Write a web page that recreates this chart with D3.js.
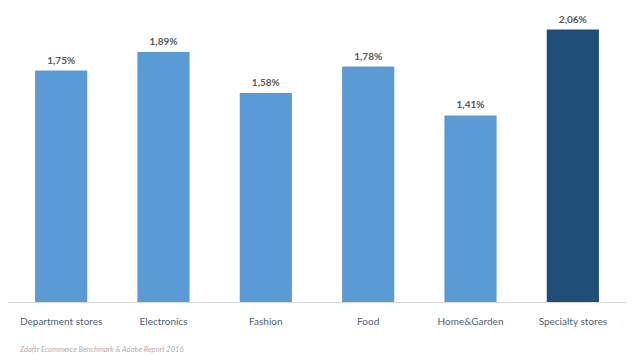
<!DOCTYPE html>
<html>
<head>
<meta charset="utf-8">
<script src="https://cdn.jsdelivr.net/npm/d3@7"></script>
<style>
  body { margin: 0; background: #fff; }
  svg { display: block; font-family: Lato, "Open Sans", sans-serif; }
</style>
</head>
<body>
<div id="wrapper"></div>
<script>
const categories = ["Department stores", "Electronics", "Fashion", "Food", "Home&Garden", "Specialty stores"];
const values = [1.75, 1.89, 1.58, 1.78, 1.41, 2.06];
const valueLabels = ["1,75%", "1,89%", "1,58%", "1,78%", "1,41%", "2,06%"];
const highlight = ["Specialty stores"];
const source = "Zdaftr Ecommerce Benchmark & Adobe Report 2016";

const dimension = { width: 633, height: 356, baseline: 302 };

const svg = d3.select("#wrapper")
    .append("svg")
    .attr("width", dimension.width)
    .attr("height", dimension.height);

const xScaler = d3.scaleBand()
    .domain(categories)
    .range([10, 624])
    .paddingInner(0.49)
    .paddingOuter(0.245);

// 1.89 -> 250px above the baseline
const yScaler = d3.scaleLinear()
    .domain([0, 1.89])
    .range([dimension.baseline, 52]);

const data = categories.map((c, i) => ({ cat: c, value: values[i], label: valueLabels[i] }));

svg.append("line")
    .attr("x1", 8)
    .attr("x2", 626)
    .attr("y1", dimension.baseline + 0.5)
    .attr("y2", dimension.baseline + 0.5)
    .attr("stroke", "#d9d9d9")
    .attr("stroke-width", 1);

svg.append("g")
    .selectAll("rect")
    .data(data)
    .join("rect")
    .attr("x", d => xScaler(d.cat))
    .attr("y", d => yScaler(d.value))
    .attr("width", xScaler.bandwidth())
    .attr("height", d => dimension.baseline - yScaler(d.value))
    .attr("fill", d => highlight.includes(d.cat) ? "#1f4e79" : "#5b9bd5");

svg.append("g")
    .selectAll("text")
    .data(data)
    .join("text")
    .attr("x", d => xScaler(d.cat) + xScaler.bandwidth() / 2)
    .attr("y", d => yScaler(d.value) - 7)
    .attr("text-anchor", "middle")
    .attr("font-size", "10px")
    .attr("font-weight", "bold")
    .attr("fill", "#595959")
    .text(d => d.label);

const xAxis = svg.append("g")
    .attr("transform", `translate(0,${dimension.baseline})`)
    .call(d3.axisBottom(xScaler).tickSize(0).tickPadding(16));
xAxis.select(".domain").remove();
xAxis.selectAll("text")
    .attr("font-size", "10px")
    .attr("font-family", "Lato, 'Open Sans', sans-serif")
    .attr("fill", "#4f5f78");

svg.append("text")
    .attr("x", 20)
    .attr("y", 352)
    .attr("font-size", "7.5px")
    .attr("font-style", "italic")
    .attr("fill", "#b0b0b0")
    .text(source);
</script>
</body>
</html>
